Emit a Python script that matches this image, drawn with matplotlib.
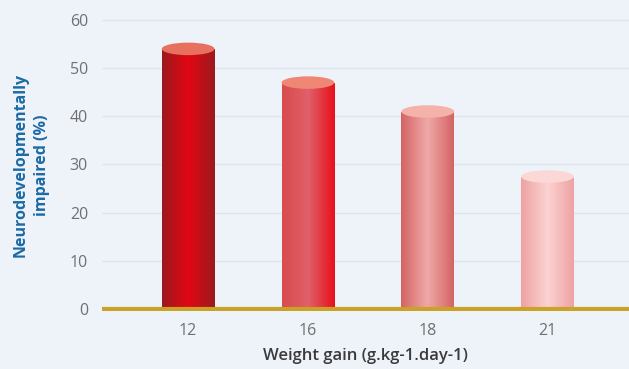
import numpy as np
import matplotlib
matplotlib.use("Agg")
import matplotlib.pyplot as plt
from matplotlib.colors import LinearSegmentedColormap
from matplotlib.patches import Ellipse

categories = ["12", "16", "18", "21"]
values = [54, 47, 41, 27.5]
ylabel_lines = ["Neurodevelopmentally", "impaired (%)"]

# side / centre / side colours of each cylinder, plus the lid colour
body_colors = [
    ["#9a1a20", "#e30613", "#9a1a20"],
    ["#d84c4c", "#e0606a", "#e8101a"],
    ["#d46464", "#f0a8a8", "#d46464"],
    ["#eea2a2", "#fcd2d2", "#eea2a2"],
]
lid_colors = ["#e8705e", "#f08674", "#f4b2aa", "#fbd8d6"]

plt.rcParams['font.family'] = ['Open Sans', 'DejaVu Sans']

bg = "#eef2f9"
fig = plt.figure(figsize=(6.29, 3.69), dpi=100, facecolor=bg)
ax = fig.add_axes([0.162, 0.156, 0.838, 0.816], facecolor=bg)

x = np.arange(len(categories))
width = 0.44
lid_h = 2.6

bars = ax.bar(x, values, width=width, color="none", edgecolor="none", zorder=3)
grad = np.linspace(0, 1, 256).reshape(1, -1)
for i, b in enumerate(bars):
    cmap = LinearSegmentedColormap.from_list("c%d" % i, body_colors[i])
    x0 = b.get_x()
    im = ax.imshow(grad, cmap=cmap, aspect="auto", interpolation="bicubic",
                   extent=(x0, x0 + width, 0, values[i]), zorder=3)
    im.set_clip_path(b)
    ax.add_patch(Ellipse((x[i], values[i]), width, lid_h,
                         facecolor=lid_colors[i], edgecolor="none", zorder=4))

ax.set_xlim(-0.72, 3.68)
ax.set_ylim(-0.5, 62)

ax.set_yticks(range(0, 61, 10))
ax.set_xticks(x)
ax.set_xticklabels(categories)
ax.grid(axis="y", color="#dfe5ee", linewidth=1)
ax.set_axisbelow(True)
ax.axhline(0, color="#c9a227", linewidth=3, zorder=5)

for s in ax.spines.values():
    s.set_visible(False)
ax.tick_params(length=0, labelsize=11.5, colors="#707070")
ax.tick_params(axis="y", pad=10)
ax.tick_params(axis="x", pad=8)

# two-line y label, each line centred on the same height
for k, line in enumerate(ylabel_lines):
    fig.text((21 + 21 * k) / 629, 1 - 165 / 369, line, rotation=90,
             ha="center", va="center", fontsize=11.5, fontweight="bold",
             color="#1c6aa5")
ax.set_xlabel("Weight gain (g.kg-1.day-1)", fontsize=12,
              fontweight="semibold", color="#3a3a3a", labelpad=7)

fig.savefig("out.png", dpi=100, facecolor=bg)
